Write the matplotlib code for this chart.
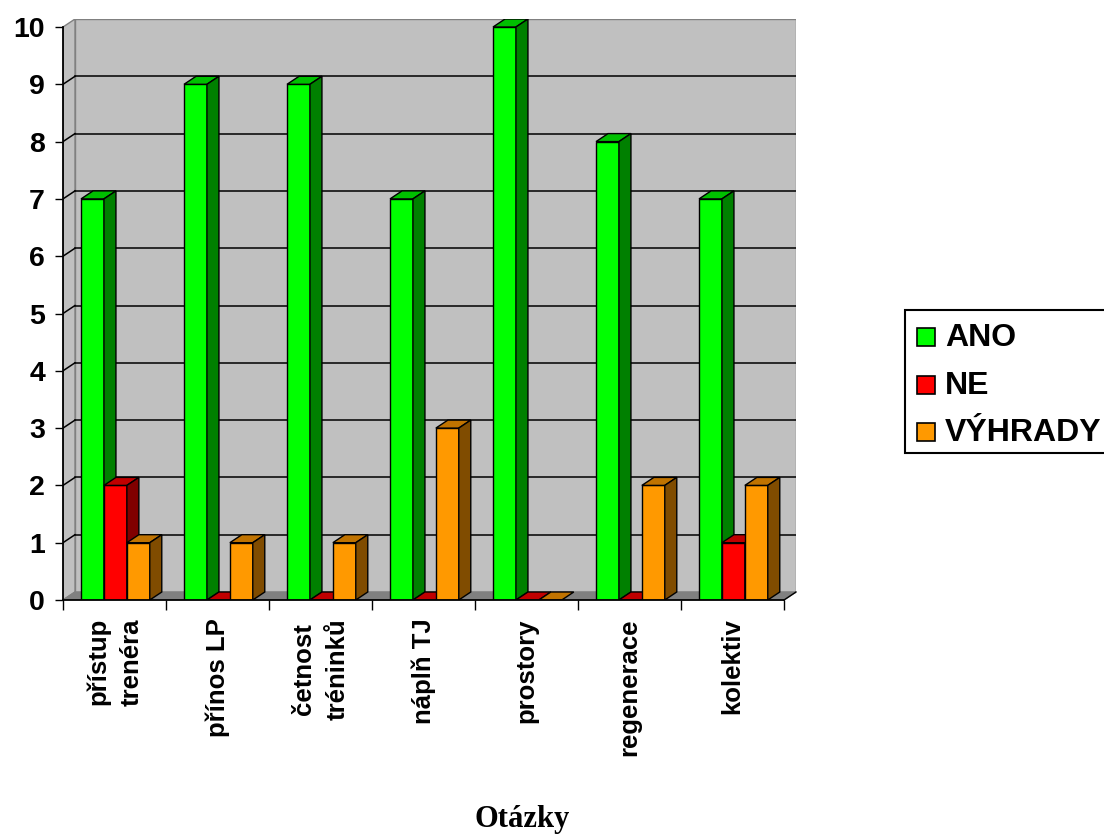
import matplotlib.pyplot as plt
from matplotlib.patches import Polygon, Rectangle

# survey answers per question
categories = ["přístup\ntrenéra", "přínos LP", "četnost\ntréninků", "náplň TJ",
              "prostory", "regenerace", "kolektiv"]
series_names = ["ANO", "NE", "VÝHRADY"]
ano = [7, 9, 9, 7, 10, 8, 7]
ne = [2, 0, 0, 0, 0, 0, 1]
vyhrady = [1, 1, 1, 3, 0, 2, 2]
y_ticks = list(range(0, 11))

# front / top / side shades for each series
front_colors = ["#00FF00", "#FF0000", "#FF9900"]
top_colors = ["#00C000", "#C00000", "#C07300"]
side_colors = ["#008000", "#800000", "#804C00"]

plt.rcParams["font.family"] = ["Liberation Sans", "DejaVu Sans"]
plt.rcParams["font.weight"] = "bold"

W, H = 1104, 834
fig = plt.figure(figsize=(W / 100, H / 100), dpi=100)

# pseudo-3D depth offset, in data units
n = len(categories)
DX = 12 / 103.0
DY = 8 / 57.3
ymax = 10

ax = fig.add_axes([63 / W, 1 - 600 / H, (784 + 12 - 63) / W, (600 - 19) / H])
ax.set_xlim(0, n + DX)
ax.set_ylim(0, ymax + DY)
for s in ax.spines.values():
    s.set_visible(False)
ax.patch.set_visible(False)

wall = "#C0C0C0"
edge = "#808080"
# back wall, side wall and floor
ax.add_patch(Rectangle((DX, DY), n, ymax, facecolor=wall, edgecolor=edge, lw=1, zorder=0))
ax.add_patch(Polygon([(0, 0), (DX, DY), (DX, ymax + DY), (0, ymax)], closed=True,
                     facecolor=wall, edgecolor=edge, lw=1, zorder=0))
ax.add_patch(Polygon([(0, 0), (DX, DY), (n + DX, DY), (n, 0)], closed=True,
                     facecolor="#808080", edgecolor=edge, lw=1, zorder=0.5))

# grid lines on the walls
for v in y_ticks[1:-1]:
    ax.plot([DX, n + DX], [v + DY, v + DY], color="black", lw=1.1, zorder=1)
    ax.plot([0, DX], [v, v + DY], color="black", lw=1.1, zorder=1)

# axis lines
ax.plot([0, 0], [0, ymax], color="black", lw=1.3, zorder=10, clip_on=False)
ax.plot([0, n], [0, 0], color="black", lw=1.3, zorder=10, clip_on=False)
ax.plot([n, n + DX], [0, DY], color="black", lw=1, zorder=10, clip_on=False)

# bars: front face via ax.bar, then top and side faces
bw = 0.2225
offset = 0.175
data = [ano, ne, vyhrady]
for k, vals in enumerate(data):
    z = 3 + k
    xs = [i + offset + k * bw for i in range(n)]
    ax.bar(xs, vals, width=bw, align="edge", color=front_colors[k],
           edgecolor="black", lw=1, zorder=z, label=series_names[k])
    for x0, v in zip(xs, vals):
        top = Polygon([(x0, v), (x0 + bw, v), (x0 + bw + DX, v + DY), (x0 + DX, v + DY)],
                      closed=True, facecolor=top_colors[k], edgecolor="black", lw=1, zorder=z)
        ax.add_patch(top)
        if v > 0:
            side = Polygon([(x0 + bw, 0), (x0 + bw + DX, DY), (x0 + bw + DX, v + DY), (x0 + bw, v)],
                           closed=True, facecolor=side_colors[k], edgecolor="black", lw=1, zorder=z)
            ax.add_patch(side)

# ticks
ax.set_yticks(y_ticks)
ax.set_yticklabels([str(t) for t in y_ticks], fontsize=20.5, fontweight="bold")
ax.tick_params(axis="y", direction="out", length=6, width=1, pad=7)
ax.set_xticks(range(n + 1))
ax.set_xticklabels([])
ax.tick_params(axis="x", which="major", direction="out", length=7.5, width=1)
ax.set_xticks([i + 0.5 for i in range(n)], minor=True)
ax.set_xticklabels(categories, minor=True, rotation=90, fontsize=18.5,
                   fontweight="bold", multialignment="center", linespacing=1.5)
ax.tick_params(axis="x", which="minor", length=0, pad=13)

fig.text(522 / W, 1 - 827 / H, "Otázky", ha="center", va="baseline",
         family="Liberation Serif", fontweight="bold", fontsize=22)

# legend box
lax = fig.add_axes([0, 0, 1, 1])
lax.set_xlim(0, W)
lax.set_ylim(H, 0)
lax.axis("off")
lax.add_patch(Rectangle((905, 310), 210, 143, facecolor="white", edgecolor="black", lw=1.5))
for k, (name, yc) in enumerate(zip(series_names, [337, 385, 432])):
    lax.add_patch(Rectangle((917, yc - 9), 18, 18, facecolor=front_colors[k],
                            edgecolor="black", lw=1.2))
    lax.text(945, yc + 1, name, va="center", ha="left", fontsize=23, fontweight="bold")

fig.savefig("out.png", dpi=100)
